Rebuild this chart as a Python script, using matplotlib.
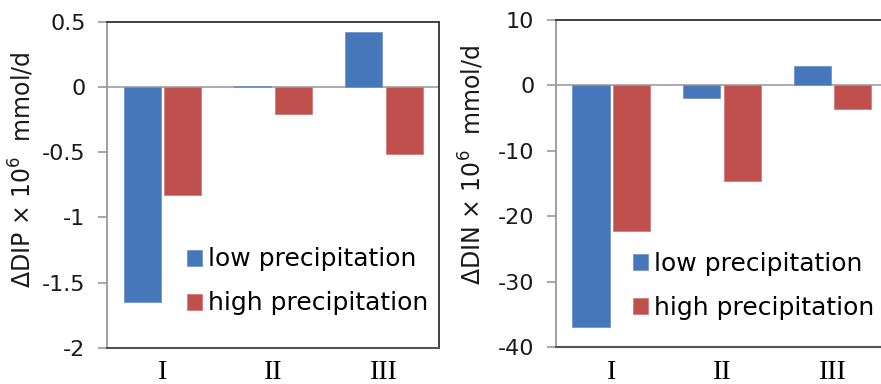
import numpy as np
import matplotlib
matplotlib.use("Agg")
import matplotlib.pyplot as plt
from matplotlib.ticker import FuncFormatter

plt.rcParams['font.family'] = ['DejaVu Sans']
plt.rcParams['axes.unicode_minus'] = False
plt.rcParams['mathtext.default'] = 'regular'

categories = ["I", "II", "III"]
dip_low = [-1.65, 0.01, 0.42]
dip_high = [-0.83, -0.21, -0.51]
din_low = [-36.9, -1.9, 2.9]
din_high = [-22.3, -14.6, -3.6]

blue = "#4677BA"
red = "#C0504D"

fig = plt.figure(figsize=(8.81, 3.84), dpi=100)
ax1 = fig.add_axes([0.1215, 0.094, 0.377, 0.849])
ax2 = fig.add_axes([0.631, 0.096, 0.377, 0.852])

x = np.arange(len(categories))
w = 0.335

def setup(ax, low, high, ylim, yticks, ylabel, lab_xy, leg_anchor):
    ax.axhline(0, color="#a6a6a6", lw=1.3, zorder=1)
    ax.bar(x - 0.183, low, w, color=blue, edgecolor="#6f95cc", lw=0.6,
           label="low precipitation", zorder=2)
    ax.bar(x + 0.183, high, w, color=red, edgecolor="#d27c79", lw=0.6,
           label="high precipitation", zorder=2)
    ax.set_xlim(-0.5, 2.5)
    ax.set_ylim(*ylim)
    ax.set_yticks(yticks)
    ax.yaxis.set_major_formatter(FuncFormatter(lambda v, p: "%g" % v))
    ax.set_xticks(x)
    ax.set_xticklabels(categories, family="Liberation Serif", fontsize=20)
    ax.tick_params(axis="x", length=0, pad=9)
    ax.tick_params(axis="y", length=6.5, width=1.2, color="#999999",
                   labelsize=16, pad=9, labelcolor="#1a1a1a")
    ax.spines["left"].set_color("#999999")
    ax.spines["left"].set_linewidth(1.3)
    ax.spines["bottom"].set_color("#555555")
    ax.spines["bottom"].set_linewidth(1.5)
    ax.spines["top"].set_color("#333333")
    ax.spines["top"].set_linewidth(1.3)
    ax.spines["right"].set_color("#333333")
    ax.spines["right"].set_linewidth(1.3)
    ax.set_ylabel(ylabel, fontsize=17, color="#1a1a1a")
    ax.yaxis.set_label_coords(*lab_xy)
    ax.legend(loc="center left", bbox_to_anchor=leg_anchor, frameon=False,
              fontsize=18, handlelength=0.6, handleheight=0.6,
              handletextpad=0.25, labelspacing=0.8, borderpad=0,
              borderaxespad=0)

setup(ax1, dip_low, dip_high, (-2, 0.5), [0.5, 0, -0.5, -1, -1.5, -2],
      "ΔDIP × 10$^6$  mmol/d", (-0.214, 0.546), (0.24, 0.204))
setup(ax2, din_low, din_high, (-40, 10), [10, 0, -10, -20, -30, -40],
      "ΔDIN × 10$^6$  mmol/d", (-0.211, 0.557), (0.232, 0.187))

fig.savefig("out.png", dpi=100)
